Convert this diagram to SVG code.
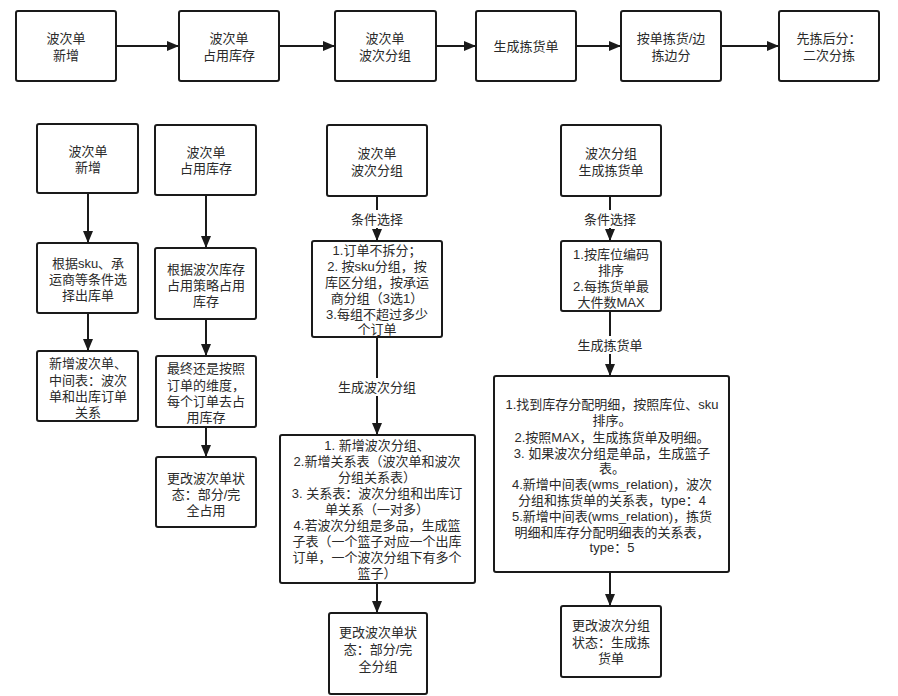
<svg xmlns="http://www.w3.org/2000/svg" width="898" height="696" viewBox="0 0 898 696">
<style>
.box{fill:#fff;stroke:#1a1a1a;stroke-width:2}
.ln{stroke:#1a1a1a;stroke-width:2;fill:none}
text{font-family:"Liberation Sans","Noto Sans CJK SC",sans-serif;font-size:13px;fill:#2a2a2a;text-anchor:middle;dominant-baseline:central}
.lb{fill:#fff;stroke:none}
</style>
<defs>
<marker id="ah" viewBox="0 0 12 10" refX="12" refY="5" markerWidth="12" markerHeight="10" markerUnits="userSpaceOnUse" orient="auto">
<path d="M0,0 L12,5 L0,10 z" fill="#1a1a1a"/>
</marker>
</defs>
<rect width="898" height="696" fill="#fff"/>
<g id="connectors">
<line class="ln" x1="116" y1="46" x2="179" y2="46" marker-end="url(#ah)"/>
<line class="ln" x1="279" y1="46" x2="335" y2="46" marker-end="url(#ah)"/>
<line class="ln" x1="436" y1="46" x2="476" y2="46" marker-end="url(#ah)"/>
<line class="ln" x1="576" y1="46" x2="621" y2="46" marker-end="url(#ah)"/>
<line class="ln" x1="721" y1="46" x2="779" y2="46" marker-end="url(#ah)"/>
<line class="ln" x1="88" y1="193" x2="88" y2="243" marker-end="url(#ah)"/>
<line class="ln" x1="88" y1="313" x2="88" y2="351" marker-end="url(#ah)"/>
<line class="ln" x1="206" y1="195" x2="206" y2="248" marker-end="url(#ah)"/>
<line class="ln" x1="206" y1="319" x2="206" y2="356" marker-end="url(#ah)"/>
<line class="ln" x1="206" y1="427" x2="206" y2="457" marker-end="url(#ah)"/>
<line class="ln" x1="377" y1="196" x2="377" y2="241" marker-end="url(#ah)"/>
<line class="ln" x1="377" y1="337" x2="377" y2="435" marker-end="url(#ah)"/>
<line class="ln" x1="377" y1="583" x2="377" y2="613" marker-end="url(#ah)"/>
<line class="ln" x1="610" y1="196" x2="610" y2="241" marker-end="url(#ah)"/>
<line class="ln" x1="610" y1="311" x2="610" y2="376" marker-end="url(#ah)"/>
<line class="ln" x1="610" y1="572" x2="610" y2="606" marker-end="url(#ah)"/>
<rect class="lb" x="347" y="210" width="60" height="18"/>
<text x="377" y="219">条件选择</text>
<rect class="lb" x="336" y="378" width="82" height="18"/>
<text x="377" y="387">生成波次分组</text>
<rect class="lb" x="580" y="210" width="60" height="18"/>
<text x="610" y="219">条件选择</text>
<rect class="lb" x="575" y="336" width="70" height="18"/>
<text x="610" y="345">生成拣货单</text>
</g>
<g id="top1"><rect class="box" x="16" y="11" width="100" height="70" rx="2"/><text x="66" y="38">波次单</text><text x="66" y="55">新增</text></g>
<g id="top2"><rect class="box" x="179" y="11" width="100" height="70" rx="2"/><text x="229" y="38">波次单</text><text x="229" y="55">占用库存</text></g>
<g id="top3"><rect class="box" x="335" y="11" width="101" height="70" rx="2"/><text x="385" y="38">波次单</text><text x="385" y="55">波次分组</text></g>
<g id="top4"><rect class="box" x="476" y="11" width="100" height="70" rx="2"/><text x="526" y="46">生成拣货单</text></g>
<g id="top5"><rect class="box" x="621" y="11" width="100" height="70" rx="2"/><text x="671" y="38">按单拣货/边</text><text x="671" y="55">拣边分</text></g>
<g id="top6"><rect class="box" x="779" y="11" width="100" height="70" rx="2"/><text x="829" y="38">先拣后分：</text><text x="829" y="55">二次分拣</text></g>

<g id="a1"><rect class="box" x="37" y="124" width="101" height="69" rx="2"/><text x="88" y="151">波次单</text><text x="88" y="167">新增</text></g>
<g id="a2"><rect class="box" x="37" y="243" width="101" height="70" rx="2"/><text x="88" y="263">根据sku、承</text><text x="88" y="279">运商等条件选</text><text x="88" y="295">择出库单</text></g>
<g id="a3"><rect class="box" x="37" y="351" width="101" height="70" rx="2"/><text x="88" y="363">新增波次单、</text><text x="88" y="380">中间表：波次</text><text x="88" y="396">单和出库订单</text><text x="88" y="412">关系</text></g>

<g id="b1"><rect class="box" x="155" y="125" width="101" height="70" rx="2"/><text x="206" y="152">波次单</text><text x="206" y="168">占用库存</text></g>
<g id="b2"><rect class="box" x="155" y="248" width="101" height="71" rx="2"/><text x="206" y="269">根据波次库存</text><text x="206" y="285">占用策略占用</text><text x="206" y="301">库存</text></g>
<g id="b3"><rect class="box" x="156" y="356" width="100" height="71" rx="2"/><text x="206" y="368">最终还是按照</text><text x="206" y="385">订单的维度，</text><text x="206" y="401">每个订单去占</text><text x="206" y="417">用库存</text></g>
<g id="b4"><rect class="box" x="156" y="457" width="100" height="70" rx="2"/><text x="206" y="478">更改波次单状</text><text x="206" y="494">态：部分/完</text><text x="206" y="510">全占用</text></g>

<g id="c1"><rect class="box" x="327" y="125" width="100" height="71" rx="2"/><text x="377" y="153">波次单</text><text x="377" y="170">波次分组</text></g>
<g id="c2"><rect class="box" x="312" y="241" width="130" height="96" rx="2"/>
<text x="377" y="250">1.订单不拆分；</text><text x="377" y="266">2. 按sku分组，按</text><text x="377" y="282">库区分组，按承运</text><text x="377" y="298">商分组（3选1）</text><text x="377" y="314">3.每组不超过多少</text><text x="377" y="329">个订单</text></g>
<g id="c3"><rect class="box" x="280" y="435" width="195" height="148" rx="2"/>
<text x="377" y="445">1. 新增波次分组、</text><text x="377" y="461">2.新增关系表（波次单和波次</text><text x="377" y="477">分组关系表）</text><text x="377" y="493">3. 关系表：波次分组和出库订</text><text x="377" y="509">单关系（一对多）</text><text x="377" y="525">4.若波次分组是多品，生成篮</text><text x="377" y="541">子表（一个篮子对应一个出库</text><text x="377" y="557">订单，一个波次分组下有多个</text><text x="377" y="573">篮子）</text></g>
<g id="c4"><rect class="box" x="329" y="613" width="98" height="81" rx="2"/><text x="378" y="632">更改波次单状</text><text x="378" y="649">态：部分/完</text><text x="378" y="666">全分组</text></g>

<g id="d1"><rect class="box" x="561" y="125" width="100" height="71" rx="2"/><text x="611" y="153">波次分组</text><text x="611" y="170">生成拣货单</text></g>
<g id="d2"><rect class="box" x="561" y="241" width="100" height="70" rx="2"/><text x="611" y="254">1.按库位编码</text><text x="611" y="270">排序</text><text x="611" y="286">2.每拣货单最</text><text x="611" y="302">大件数MAX</text></g>
<g id="d3"><rect class="box" x="494" y="376" width="235" height="196" rx="2"/>
<text x="612" y="404">1.找到库存分配明细，按照库位、sku</text><text x="612" y="420">排序。</text><text x="612" y="437">2.按照MAX，生成拣货单及明细。</text><text x="612" y="453">3. 如果波次分组是单品，生成篮子</text><text x="612" y="468">表。</text><text x="612" y="484">4.新增中间表(wms_relation)，波次</text><text x="612" y="500">分组和拣货单的关系表，type：4</text><text x="612" y="516">5.新增中间表(wms_relation)，拣货</text><text x="612" y="532">明细和库存分配明细表的关系表，</text><text x="612" y="547">type：5</text></g>
<g id="d4"><rect class="box" x="561" y="606" width="100" height="71" rx="2"/><text x="611" y="625">更改波次分组</text><text x="611" y="642">状态：生成拣</text><text x="611" y="658">货单</text></g>
</svg>
